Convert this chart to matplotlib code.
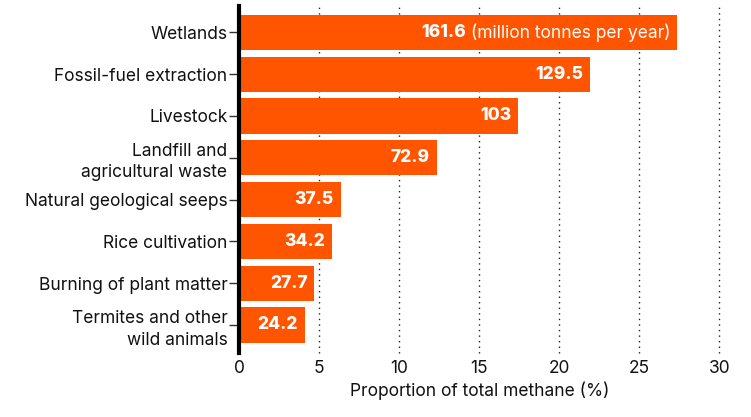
import matplotlib
matplotlib.use("Agg")
import matplotlib.pyplot as plt

categories = ["Wetlands", "Fossil-fuel extraction", "Livestock",
              "Landfill and\nagricultural waste", "Natural geological seeps",
              "Rice cultivation", "Burning of plant matter",
              "Termites and other\nwild animals"]
emissions = [161.6, 129.5, 103, 72.9, 37.5, 34.2, 27.7, 24.2]  # million tonnes per year
emission_labels = ["161.6", "129.5", "103", "72.9", "37.5", "34.2", "27.7", "24.2"]
proportion = [27.36, 21.93, 17.44, 12.34, 6.35, 5.79, 4.69, 4.10]  # % of total
xticks = [0, 5, 10, 15, 20, 25, 30]

FONT = "Inter"
plt.rcParams['font.family'] = [FONT, 'DejaVu Sans']
ORANGE = "#FF5500"
FS = 12.5

fig = plt.figure(figsize=(7.51, 4.17), dpi=100)
ax = fig.add_axes([239.3/751, 1-353/417, 480/751, 347/417])

y = list(range(len(categories)))
ax.barh(y, proportion, height=0.84, color=ORANGE, zorder=3)
ax.set_xlim(0, 30)
ax.set_ylim(len(categories) - 1 + 0.67, -0.63)

ax.set_xticks(xticks)
ax.set_xticklabels([str(t) for t in xticks], fontsize=FS, color="#111111")
ax.tick_params(axis='x', length=0, pad=5)
ax.set_yticks(y)
ax.set_yticklabels(categories, fontsize=FS, color="#111111", linespacing=1.35)
ax.tick_params(axis='y', length=7, width=1.0, color="#333333", pad=1.5)

for x in xticks[1:]:
    ax.axvline(x, color="#222222", lw=1.0, ls=(0, (1, 3)), zorder=1, clip_on=False)

for s in ["top", "right", "bottom"]:
    ax.spines[s].set_visible(False)
ax.spines["left"].set_linewidth(3)
ax.spines["left"].set_color("black")
ax.spines["left"].set_zorder(5)

ax.set_xlabel("Proportion of total methane (%)", fontsize=FS, color="#111111", labelpad=3)

for i, (p, lab) in enumerate(zip(proportion, emission_labels)):
    if i == 0:
        t = ax.annotate(" (million tonnes per year)", xy=(p, i), xytext=(-5, 0),
                        textcoords="offset points", ha="right", va="center",
                        color="white", fontsize=FS, zorder=6)
        fig.canvas.draw()
        bb = t.get_window_extent()
        xd = ax.transData.inverted().transform((bb.x0, 0))[0]
        ax.annotate(lab, xy=(xd, i), xytext=(0, 0), textcoords="offset points",
                    ha="right", va="center", color="white", fontsize=FS,
                    fontweight="heavy", zorder=6)
    else:
        ax.annotate(lab, xy=(p, i), xytext=(-5, 0), textcoords="offset points",
                    ha="right", va="center", color="white", fontsize=FS,
                    fontweight="heavy", zorder=6)

fig.savefig("out.png", dpi=100)
